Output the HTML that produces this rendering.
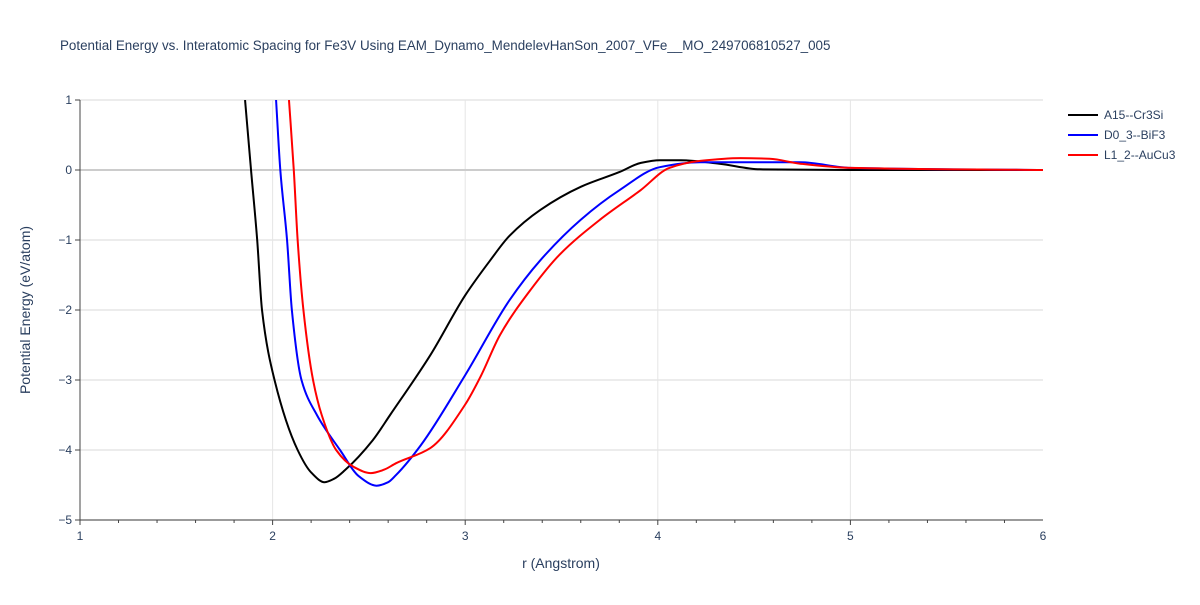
<!DOCTYPE html>
<html><head><meta charset="utf-8"><style>
body{margin:0;background:#fff;font-family:"Liberation Sans",sans-serif;}
text{font-family:"Liberation Sans",sans-serif;}
</style></head><body>
<svg id="chart" width="1200" height="600">
<defs><clipPath id="clip"><rect x="80" y="100" width="963" height="420"/></clipPath></defs>
<text x="60" y="50" font-size="13.4" fill="#2a3f5f">Potential Energy vs. Interatomic Spacing for Fe3V Using EAM_Dynamo_MendelevHanSon_2007_VFe__MO_249706810527_005</text>
<g id="grid"></g>
<g id="series" clip-path="url(#clip)"></g>
<g id="axes"></g>
<text x="561" y="568" font-size="14" fill="#2a3f5f" text-anchor="middle">r (Angstrom)</text>
<text transform="translate(30,310) rotate(-90)" font-size="14" fill="#2a3f5f" text-anchor="middle">Potential Energy (eV/atom)</text>
<g id="legend"></g>
</svg>
<script>
const xTicks=[1,2,3,4,5,6];
const yTicks=[1,0,-1,-2,-3,-4,-5];
const seriesNames=["A15--Cr3Si","D0_3--BiF3","L1_2--AuCu3"];
const seriesColors=["#000000","#0000ff","#ff0000"];
const a15R=[1.857,1.888,1.92,1.945,2.01,2.13,2.2,2.27,2.32,2.375,2.52,2.61,2.82,3.0,3.13,3.23,3.39,3.6,3.8,3.91,4.01,4.12,4.32,4.53,5,6];
const a15E=[1,0,-1,-2,-3,-4,-4.32,-4.46,-4.41,-4.29,-3.86,-3.5,-2.64,-1.79,-1.29,-0.94,-0.57,-0.24,-0.03,0.1,0.14,0.14,0.09,0.01,0,0];
const d03R=[2.018,2.04,2.075,2.10,2.15,2.23,2.35,2.45,2.54,2.6,2.64,2.77,3.0,3.23,3.39,3.6,3.8,4.01,4.22,4.74,5.0,6];
const d03E=[1,0,-1,-2,-3,-3.5,-4,-4.38,-4.51,-4.46,-4.36,-3.93,-2.93,-1.86,-1.29,-0.71,-0.29,0.04,0.11,0.11,0.03,0];
const l12R=[2.085,2.11,2.13,2.16,2.21,2.255,2.33,2.42,2.51,2.58,2.64,2.82,3.0,3.08,3.18,3.34,3.49,3.7,3.91,4.06,4.22,4.43,4.58,4.74,5.0,6];
const l12E=[1,0,-1,-2,-3,-3.5,-4,-4.24,-4.33,-4.28,-4.19,-3.97,-3.35,-2.95,-2.36,-1.71,-1.21,-0.71,-0.29,0.03,0.13,0.17,0.16,0.09,0.03,0];
const X=r=>80+(r-1)*192.6;
const Y=e=>170-e*70;
const ns="http://www.w3.org/2000/svg";
function mk(tag,attrs,parent){const el=document.createElementNS(ns,tag);for(const k in attrs)el.setAttribute(k,attrs[k]);parent.appendChild(el);return el;}
const grid=document.getElementById('grid'),axes=document.getElementById('axes');
xTicks.forEach(t=>{
 if(t>1&&t<6){const l=mk('line',{x1:X(t),x2:X(t),y1:100,y2:520,stroke:'#e5e5e5','stroke-width':1},grid);
 
 }
 const tx=mk('text',{x:X(t),y:540,'font-size':12,fill:'#2a3f5f','text-anchor':'middle'},axes);tx.textContent=t;
 
 
});
for(let t=1;t<6;t+=0.2){const m=mk('line',{x1:X(t),x2:X(t),y1:520,y2:t%1<0.01||t%1>0.99?525:523,stroke:'#444'},axes);
 
 }
yTicks.forEach(t=>{
 const l=mk('line',{x1:80,x2:1043,y1:Y(t),y2:Y(t),stroke:t===0?'#cccccc':'#e5e5e5','stroke-width':t===0?2:1.5},grid);
 
 
 const tx=mk('text',{x:72,y:Y(t)+4,'font-size':12,fill:'#2a3f5f','text-anchor':'end'},axes);tx.textContent=t<0?'\u2212'+(-t):t;
 
 
 const m=mk('line',{x1:75,x2:80,y1:Y(t),y2:Y(t),stroke:'#444'},axes);
 
 
});
const xa=mk('line',{x1:80,x2:1043,y1:520,y2:520,stroke:'#444'},axes);


const ya=mk('line',{x1:80,x2:80,y1:100,y2:520,stroke:'#444'},axes);


// monotone cubic (Fritsch-Carlson) in x
function path(R,E){
 const x=R.map(X),y=E.map(Y),n=x.length;
 const d=[],m=new Array(n);
 for(let i=0;i<n-1;i++)d.push((y[i+1]-y[i])/(x[i+1]-x[i]));
 m[0]=d[0];m[n-1]=d[n-2];
 for(let i=1;i<n-1;i++){
  if(d[i-1]*d[i]<=0)m[i]=0;
  else{const h0=x[i]-x[i-1],h1=x[i+1]-x[i];const w1=2*h1+h0,w2=h1+2*h0;m[i]=(w1+w2)/(w1/d[i-1]+w2/d[i]);}
 }
 let s='M'+x[0]+','+y[0];
 for(let i=0;i<n-1;i++){
  const h=(x[i+1]-x[i])/3;
  s+=` C${x[i]+h},${y[i]+m[i]*h} ${x[i+1]-h},${y[i+1]-m[i+1]*h} ${x[i+1]},${y[i+1]}`;
 }
 return s;
}
const data=[[a15R,a15E],[d03R,d03E],[l12R,l12E]];
const sg=document.getElementById('series'),lg=document.getElementById('legend');
data.forEach((s,i)=>{
 const p=mk('path',{d:path(s[0],s[1]),fill:'none',stroke:seriesColors[i],'stroke-width':2,'stroke-linejoin':'round'},sg);
 
 
 const y=115+i*20;
 const g=mk('g',{},lg);
 
 
 mk('line',{x1:1068,x2:1098,y1:y,y2:y,stroke:seriesColors[i],'stroke-width':2},g);
 const t=mk('text',{x:1104,y:y+4,'font-size':12,fill:'#2a3f5f'},g);t.textContent=seriesNames[i];
});
</script>
</body></html>
